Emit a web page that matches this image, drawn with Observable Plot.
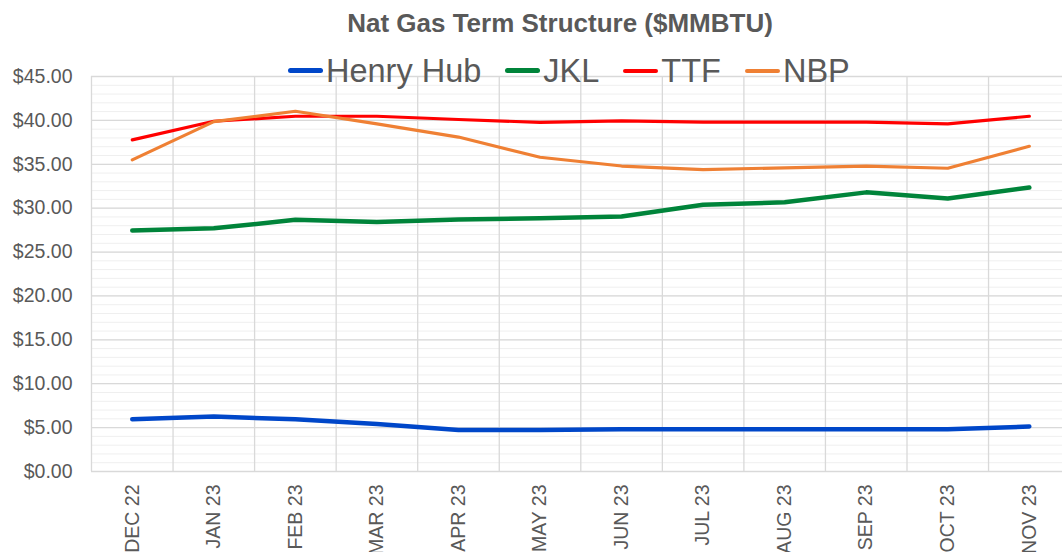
<!DOCTYPE html>
<html><head><meta charset="utf-8">
<script src="https://cdn.jsdelivr.net/npm/d3@7"></script>
<script src="https://cdn.jsdelivr.net/npm/@observablehq/plot@0.6"></script>
<style>
body{margin:0;background:#fff;font-family:"Liberation Sans",Arial,sans-serif;}
#wrap{position:relative;width:1062px;height:552px;overflow:hidden;}
#chart svg{overflow:hidden;}
#title{position:absolute;left:0;width:1120px;top:10px;text-align:center;font-weight:bold;font-size:26px;line-height:1;color:#595959;white-space:nowrap;}
#legend{position:absolute;left:288px;top:54.5px;display:flex;gap:24px;white-space:nowrap;}
.item{display:flex;align-items:center;}
.sw{display:inline-block;width:35px;border-radius:3px;margin-right:3px;}
.lab{font-size:32.5px;line-height:1;color:#595959;}
</style></head>
<body><div id="wrap"><div id="chart"></div><div id="title"></div><div id="legend"></div></div>
<script>
const title = "Nat Gas Term Structure ($MMBTU)";
const months = ["DEC 22","JAN 23","FEB 23","MAR 23","APR 23","MAY 23","JUN 23","JUL 23","AUG 23","SEP 23","OCT 23","NOV 23"];
const henryHub = [5.96, 6.26, 5.95, 5.4, 4.72, 4.72, 4.82, 4.82, 4.82, 4.82, 4.82, 5.12];
const jkl = [27.45, 27.7, 28.67, 28.43, 28.7, 28.85, 29.04, 30.4, 30.67, 31.8, 31.1, 32.35];
const ttf = [37.78, 39.9, 40.47, 40.47, 40.1, 39.77, 39.94, 39.8, 39.8, 39.8, 39.6, 40.47];
const nbp = [35.5, 39.86, 41.04, 39.6, 38.1, 35.8, 34.8, 34.4, 34.6, 34.8, 34.55, 37.05];
const yTicks = [0, 5, 10, 15, 20, 25, 30, 35, 40, 45];
const yMinor = d3.range(0, 46, 1);

const series = [
  {name: "Henry Hub", values: henryHub, color: "#0047c9", width: 4.5},
  {name: "JKL", values: jkl, color: "#00843a", width: 4.5},
  {name: "TTF", values: ttf, color: "#ff0000", width: 3.2},
  {name: "NBP", values: nbp, color: "#ef8034", width: 3.2}
];
const idx = months.map((m, i) => i);
const edges = d3.range(-0.5, 12, 1);

const lineMarks = series.map(s => Plot.line(idx.map(i => ({i, v: s.values[i]})), {
  x: "i", y: "v", stroke: s.color, strokeWidth: s.width, strokeLinejoin: "round", strokeLinecap: "round"
}));

const chart = Plot.plot({
  width: 1062, height: 552,
  marginLeft: 91, marginRight: -7.6, marginTop: 76, marginBottom: 81,
  style: {fontFamily: "Liberation Sans, Arial, sans-serif", fontSize: "19.5px", color: "#595959", background: "#fff"},
  x: {type: "linear", domain: [-0.5, 11.5]},
  y: {domain: [0, 45]},
  marks: [
    Plot.ruleY(yMinor, {stroke: "#efefef", strokeWidth: 1}),
    Plot.ruleY(yTicks, {stroke: "#d9d9d9", strokeWidth: 1.3}),
    Plot.ruleX(edges, {stroke: "#d9d9d9", strokeWidth: 1.3}),
    Plot.axisY({ticks: yTicks, tickFormat: d => "$" + d.toFixed(2), tickSize: 0, tickPadding: 19, fill: "#595959", fontSize: 19.5, label: null}),
    Plot.axisX({ticks: idx, tickFormat: i => months[i], tickRotate: -90, tickSize: 0, tickPadding: 13, fill: "#595959", fontSize: 19.5, label: null}),
    ...lineMarks
  ]
});
document.getElementById("chart").appendChild(chart);
document.getElementById("title").textContent = title;
const leg = document.getElementById("legend");
series.forEach(s => {
  const it = document.createElement("div"); it.className = "item";
  const sw = document.createElement("span"); sw.className = "sw";
  sw.style.background = s.color; sw.style.height = (s.width > 4 ? 5 : 4.5) + "px";
  const lb = document.createElement("span"); lb.className = "lab"; lb.textContent = s.name;
  it.appendChild(sw); it.appendChild(lb); leg.appendChild(it);
});
</script></body></html>
